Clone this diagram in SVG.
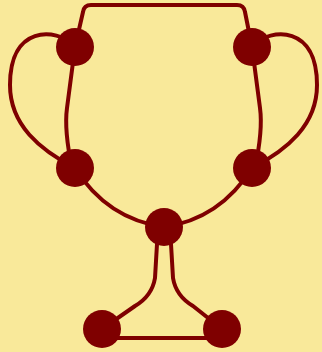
<svg xmlns="http://www.w3.org/2000/svg" width="322" height="352" viewBox="0 0 322 352">
<style>
.e{fill:none;stroke:#7f0000;stroke-width:4;stroke-linecap:round;stroke-linejoin:round}
.n{fill:#7f0000}
</style>
<rect width="322" height="352" fill="#f9e99a"/>
<g id="connectors">
<path class="e" d="M75 47 L83 12 Q84 5 91 5 L237 5 Q244 5 245 12 L252 47"/>
<path class="e" d="M75 45 C55 28 10 25 10 85 C10 125 40 150 75 168"/>
<path class="e" d="M252 45 C272 28 317 25 317 85 C317 125 287 150 252 168"/>
<path class="e" d="M75 47 L67 108 Q64 130 72 168"/>
<path class="e" d="M252 47 L260 108 Q263 130 255 168"/>
<path class="e" d="M75 168 Q107 219 164 227"/>
<path class="e" d="M252 168 Q220 219 164 227"/>
<path class="e" d="M158 227 L155 278 Q152 296 135 306 L102 329"/>
<path class="e" d="M170 227 L173 278 Q176 296 193 306 L222 329"/>
<path class="e" d="M102 338 L222 338"/>
</g>
<g id="n1"><circle class="n" cx="75" cy="47" r="19"/></g>
<g id="n2"><circle class="n" cx="252" cy="47" r="19"/></g>
<g id="n3"><circle class="n" cx="75" cy="168" r="19"/></g>
<g id="n4"><circle class="n" cx="252" cy="168" r="19"/></g>
<g id="n5"><circle class="n" cx="164" cy="227" r="19"/></g>
<g id="n6"><circle class="n" cx="102" cy="329" r="19"/></g>
<g id="n7"><circle class="n" cx="222" cy="329" r="19"/></g>
</svg>
